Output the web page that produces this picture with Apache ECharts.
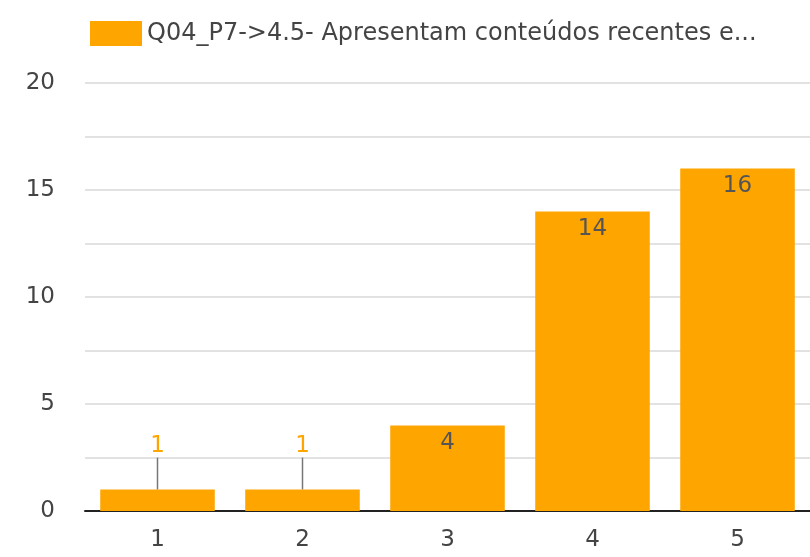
<!DOCTYPE html>
<html><head><meta charset="utf-8">
<script src="https://cdn.jsdelivr.net/npm/echarts@6/dist/echarts.min.js"></script>
<style>html,body{margin:0;padding:0;background:#fff}#c{width:810px;height:557px}</style>
</head><body><div id="c"></div>
<script>
const categories = ['1', '2', '3', '4', '5'];
const values = [1, 1, 4, 14, 16];
const seriesName = 'Q04_P7->4.5- Apresentam conteúdos recentes e...';
const yTicks = [0, 5, 10, 15, 20];

const FONT = '"DejaVu Sans"';
const chart = echarts.init(document.getElementById('c'), null, {renderer: 'canvas'});
chart.setOption({
  animation: false,
  textStyle: {fontFamily: FONT},
  legend: {
    left: 85, top: 16, icon: 'rect',
    itemWidth: 52, itemHeight: 25, itemGap: 10,
    textStyle: {fontFamily: FONT, fontSize: 24, color: '#444'},
    data: [seriesName]
  },
  grid: {left: 85, right: 0, top: 83, bottom: 46},
  xAxis: {
    type: 'category', data: categories,
    axisLine: {lineStyle: {color: '#222', width: 2}},
    axisTick: {show: false},
    axisLabel: {fontFamily: FONT, fontSize: 23, color: '#444', margin: 18}
  },
  yAxis: {
    type: 'value', min: 0, max: 20, interval: 2.5,
    axisLine: {show: false}, axisTick: {show: false},
    splitLine: {lineStyle: {color: '#e2e2e2', width: 2}},
    axisLabel: {fontFamily: FONT, fontSize: 23, color: '#444', margin: 30,
      formatter: v => yTicks.includes(v) ? String(v) : ''}
  },
  series: [{
    name: seriesName, type: 'bar', barWidth: '79%',
    itemStyle: {color: '#FFA500'},
    data: values.map(v => v <= 2 ? {
      value: v,
      label: {position: 'top', distance: 0, color: '#FFA500'},
      labelLine: {show: true, lineStyle: {color: '#777', width: 1.5}}
    } : {value: v}),
    label: {show: true, position: 'insideTop', distance: 6, fontFamily: FONT, fontSize: 23, color: '#555'},
    labelLine: {show: false},
    labelLayout: function (p) {
      if (values[p.dataIndex] <= 2) {
        return {dy: -32};
      }
      return {};
    }
  }]
});
</script></body></html>
